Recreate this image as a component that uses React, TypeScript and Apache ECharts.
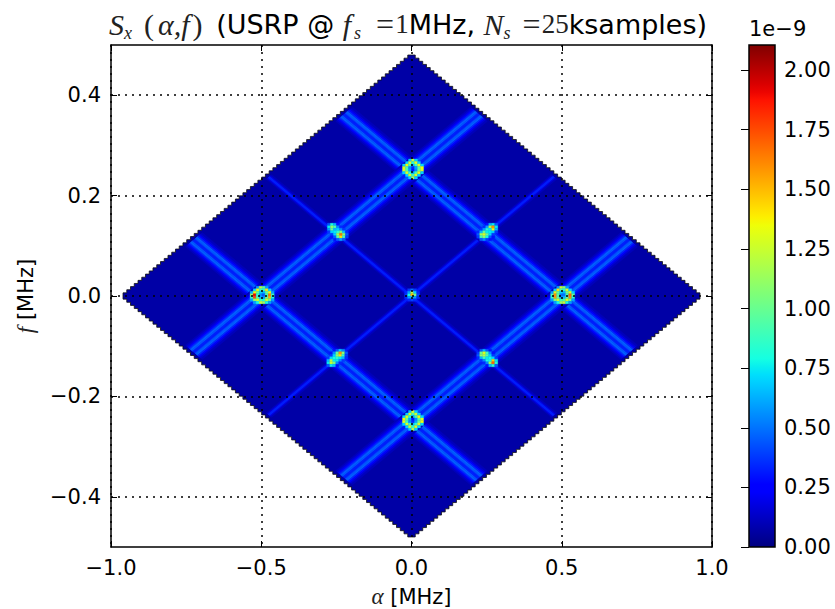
import React, { useEffect, useRef } from "react";
import * as echarts from "echarts";

// Axis ticks
const alphaTicks = [-1, -0.5, 0, 0.5, 1];
const freqTicks = [-0.4, -0.2, 0, 0.2, 0.4];
const colorbarTicks = [0, 0.25, 0.5, 0.75, 1, 1.25, 1.5, 1.75, 2];
const colorMax = 2.105;

// Support of the estimate (corner of the diamond on each axis), and its floor level
const diamondAlpha = 0.96;
const diamondFreq = 0.48;
const floorLevel = 0.07;
const stairStepAlpha = 0.0125;

// Ridges, in rotated coordinates u = a/2 + f, v = a/2 - f
const strongRidgesU = [-0.25, 0.25];
const strongRidgesV = [-0.25, 0.25];
const weakRidgesU = [0];
const weakRidgesV = [0];
const ridgeReach = 0.474;

// Cross-ridge profile: alpha offset of each band's edge, band level (1e-9)
const strongOffsets = [-0.056, -0.048, -0.04, -0.032, -0.024, -0.016, -0.008, 0, 0.008, 0.016, 0.024, 0.032, 0.04, 0.048];
const strongLevels = [0.11, 0.16, 0.24, 0.35, 0.47, 0.44, 0.33, 0.33, 0.44, 0.47, 0.35, 0.24, 0.16, 0.11];
const strongBand = 0.008;
const weakOffsets = [-0.018, -0.012, -0.006, 0, 0.006, 0.012];
const weakLevels = [0.11, 0.18, 0.33, 0.33, 0.18, 0.11];
const weakBand = 0.006;

// Hot spots: grid step, centre, then levels (0 = nothing), rows top to bottom
const cellAlpha = 0.01;
const cellFreq = 0.005;

const spotTopCentre = [0.005, 0.253];
const spotTop = [
  [0, 0, 0.7, 1.25, 0.7, 0, 0],
  [0, 0.7, 1.3, 0.85, 1.3, 0.7, 0],
  [0.7, 1.35, 0.9, 0.65, 0.9, 1.3, 0.7],
  [1.3, 0.95, 0.55, 0.35, 0.6, 0.95, 1.35],
  [1.3, 0.95, 0.6, 0.3, 0.55, 1.0, 1.3],
  [0.7, 1.3, 0.85, 0.6, 0.9, 1.35, 0.7],
  [0, 0.7, 1.3, 0.9, 1.3, 0.7, 0],
  [0, 0, 0.7, 1.2, 0.7, 0, 0],
];
const spotBottomCentre = [0.005, -0.248];
const spotBottom = [
  [0, 0, 0.7, 1.3, 0.7, 0, 0],
  [0, 0.7, 1.3, 0.9, 1.25, 0.7, 0],
  [0.7, 1.3, 0.85, 0.6, 0.9, 1.35, 0.7],
  [1.35, 1.0, 0.6, 0.3, 0.55, 0.95, 1.3],
  [1.3, 0.9, 0.55, 0.35, 0.6, 1.0, 1.35],
  [0.7, 1.3, 0.9, 0.65, 0.85, 1.3, 0.7],
  [0, 0.7, 1.25, 0.85, 1.3, 0.7, 0],
  [0, 0, 0.7, 1.2, 0.7, 0, 0],
];
const spotLeftCentre = [-0.497, 0.002];
const spotLeft = [
  [0, 0, 0.6, 1.2, 1.0, 0.6, 0, 0],
  [0, 0.7, 1.35, 0.9, 0.85, 1.4, 0.7, 0],
  [0.65, 1.35, 1.0, 0.7, 0.65, 1.0, 1.35, 0.6],
  [1.1, 1.9, 0.85, 0.55, 0.45, 0.9, 1.65, 0.9],
  [0.9, 1.75, 0.95, 0.65, 0.55, 1.0, 1.5, 0.8],
  [0.6, 1.1, 1.3, 0.9, 0.8, 1.3, 1.05, 0.6],
  [0, 0.6, 0.8, 1.25, 1.15, 0.8, 0.6, 0],
];
const spotRightCentre = [0.503, 0.002];
const spotRight = [
  [0, 0, 0.6, 1.25, 1.1, 0.6, 0, 0],
  [0, 0.7, 1.4, 0.95, 0.85, 1.3, 0.7, 0],
  [0.6, 1.3, 1.0, 0.7, 0.65, 1.05, 1.3, 0.7],
  [0.9, 1.6, 0.95, 0.5, 0.5, 0.9, 1.7, 1.0],
  [0.85, 1.55, 1.0, 0.6, 0.65, 0.95, 1.6, 0.85],
  [0.6, 1.05, 1.3, 0.9, 0.95, 1.35, 1.05, 0.6],
  [0, 0.6, 0.8, 1.15, 1.25, 0.8, 0.6, 0],
];
const spotUpLeftCentre = [-0.245, 0.1275];
const spotUpLeft = [
  [0.45, 0.8, 0.65, 0.3, 0, 0, 0],
  [0.75, 1.1, 0.95, 0.55, 0.35, 0, 0],
  [0.6, 1.0, 0.65, 0.7, 0.55, 0.38, 0],
  [0.38, 0.7, 0.75, 0.85, 1.05, 0.65, 0.35],
  [0, 0.38, 0.7, 1.15, 1.65, 1.1, 0.45],
  [0, 0.3, 0.45, 0.95, 1.4, 0.9, 0.38],
  [0, 0, 0.3, 0.45, 0.6, 0.45, 0],
];
const spotUpRightCentre = [0.252, 0.1275];
const spotUpRight = [
  [0, 0, 0, 0.3, 0.65, 0.75, 0.45],
  [0, 0, 0.35, 0.6, 1.2, 1.6, 0.75],
  [0, 0.38, 0.6, 0.85, 0.75, 1.35, 0.65],
  [0.35, 0.65, 1.0, 0.75, 0.75, 0.7, 0.38],
  [0.45, 1.15, 1.3, 1.0, 0.7, 0.38, 0],
  [0.38, 0.9, 1.1, 0.8, 0.45, 0.3, 0],
  [0, 0.45, 0.55, 0.38, 0.3, 0, 0],
];
const spotDownLeftCentre = [-0.247, -0.1235];
const spotDownLeft = [
  [0, 0, 0.3, 0.45, 0.7, 0.55, 0],
  [0, 0.3, 0.55, 1.0, 1.6, 1.1, 0.45],
  [0, 0.38, 0.7, 1.1, 1.4, 0.9, 0.38],
  [0.38, 0.7, 0.8, 0.85, 0.75, 0.65, 0.35],
  [0.65, 1.2, 0.75, 0.75, 0.55, 0.38, 0],
  [0.75, 1.25, 1.05, 0.55, 0.35, 0, 0],
  [0.45, 0.75, 0.65, 0.3, 0, 0, 0],
];
const spotDownRightCentre = [0.252, -0.1235];
const spotDownRight = [
  [0, 0.45, 0.65, 0.45, 0.3, 0, 0],
  [0.38, 1.0, 1.3, 0.9, 0.55, 0.3, 0],
  [0.45, 1.1, 1.2, 0.95, 0.7, 0.38, 0],
  [0.35, 0.65, 0.9, 0.75, 0.8, 0.7, 0.38],
  [0, 0.38, 0.55, 0.8, 0.8, 1.45, 0.75],
  [0, 0, 0.35, 0.55, 1.15, 1.7, 0.85],
  [0, 0, 0, 0.3, 0.65, 0.85, 0.45],
];
const spotMiddleCentre = [0.002, 0.002];
const spotMiddle = [
  [0, 0.38, 0.5, 0.38, 0],
  [0.35, 0.6, 1.2, 0.7, 0.35],
  [0.38, 0.8, 1.5, 1.05, 0.4],
  [0.35, 0.6, 0.7, 0.6, 0.35],
  [0, 0.35, 0.4, 0.35, 0],
];

const spotList: [number[], number[][]][] = [
  [spotTopCentre, spotTop],
  [spotBottomCentre, spotBottom],
  [spotLeftCentre, spotLeft],
  [spotRightCentre, spotRight],
  [spotUpLeftCentre, spotUpLeft],
  [spotUpRightCentre, spotUpRight],
  [spotDownLeftCentre, spotDownLeft],
  [spotDownRightCentre, spotDownRight],
  [spotMiddleCentre, spotMiddle],
];

function lerpChannel(t: number, pts: number[][]) {
  for (let i = 1; i < pts.length; i++) {
    if (t <= pts[i][0]) {
      const [a, va] = pts[i - 1];
      const [b, vb] = pts[i];
      return va + ((vb - va) * (t - a)) / (b - a);
    }
  }
  return pts[pts.length - 1][1];
}
const jetR = [[0, 0], [0.35, 0], [0.66, 1], [0.89, 1], [1, 0.5]];
const jetG = [[0, 0], [0.125, 0], [0.375, 1], [0.64, 1], [0.91, 0], [1, 0]];
const jetB = [[0, 0.5], [0.11, 1], [0.34, 1], [0.65, 0], [1, 0]];
function jet(t: number) {
  const c = (p: number[][]) => Math.round(255 * lerpChannel(t, p));
  return `rgb(${c(jetR)},${c(jetG)},${c(jetB)})`;
}
const levelColor = (v: number) => jet(Math.min(1, v / colorMax));

// Stripe polygons: four (alpha, f) corners and a level
function uvToAF(u: number, v: number) {
  return [u + v, (u - v) / 2];
}
function stripes(ats: number[], isU: boolean, offs: number[], lev: number[], w: number) {
  const out: number[][] = [];
  ats.forEach((at) => {
    offs.forEach((o, i) => {
      const c0 = at + o / 2;
      const c1 = at + (o + w) / 2;
      const corners = [
        [c0, -ridgeReach],
        [c1, -ridgeReach],
        [c1, ridgeReach],
        [c0, ridgeReach],
      ];
      const row: number[] = [];
      corners.forEach(([c, l]) => {
        const p = isU ? uvToAF(c, l) : uvToAF(l, c);
        row.push(p[0], p[1]);
      });
      row.push(lev[i]);
      out.push(row);
    });
  });
  return out;
}
const stripeData = [
  ...stripes(weakRidgesU, true, weakOffsets, weakLevels, weakBand),
  ...stripes(weakRidgesV, false, weakOffsets, weakLevels, weakBand),
  ...stripes(strongRidgesU, true, strongOffsets, strongLevels, strongBand),
  ...stripes(strongRidgesV, false, strongOffsets, strongLevels, strongBand),
];

const cellData: number[][] = [];
spotList.forEach(([centre, m]) => {
  const rows = m.length;
  m.forEach((row, r) => {
    const cols = row.length;
    row.forEach((v, c) => {
      if (v > 0) {
        cellData.push([
          centre[0] + (c - (cols - 1) / 2) * cellAlpha,
          centre[1] + ((rows - 1) / 2 - r) * cellFreq,
          v,
        ]);
      }
    });
  });
});

const serif = { fontFamily: "Liberation Serif", fontWeight: "normal", color: "#222" };
const subStyle = { ...serif, fontStyle: "italic", fontSize: 18, verticalAlign: "bottom", lineHeight: 36 };
const mathStyles = {
  mi: { ...serif, fontStyle: "italic", fontSize: 30 },
  mip: { ...serif, fontStyle: "italic", fontSize: 30, padding: [0, 3, 0, 2] },
  br: { ...serif, fontSize: 30, padding: [0, 2, 0, 0] },
  brr: { ...serif, fontSize: 30, padding: [0, 5, 0, 0] },
  eq: { ...serif, fontSize: 32, padding: [0, 1, 0, 0] },
  mr: { ...serif, fontSize: 27 },
  s1: { ...subStyle, padding: [0, 12, 0, 0] },
  s2: { ...subStyle, padding: [0, 15, 0, 3] },
  s3: { ...subStyle, padding: [0, 12, 0, 0] },
  n: { fontFamily: "DejaVu Sans", fontWeight: "normal", fontSize: 27, color: "#000" },
  m2: { ...serif, fontStyle: "italic", fontSize: 23 },
  n2: { fontFamily: "DejaVu Sans", fontWeight: "normal", fontSize: 21, color: "#000" },
};

const labelText = (v: number, digits: number) => v.toFixed(digits).replace("-", "\u2212");

export default function App() {
  const ref = useRef<HTMLDivElement>(null);
  useEffect(() => {
    document.body.style.margin = "0";
    document.body.style.background = "#fff";
    const chart = echarts.init(ref.current!, undefined, { renderer: "svg" });
    const tickFont = { fontFamily: "DejaVu Sans", fontSize: 21, color: "#000" };
    const frame = { show: true, onZero: false, lineStyle: { color: "#000", width: 1.5 } };
    const tick = { show: true, inside: true, length: 6, lineStyle: { color: "#000", width: 1 } };
    const dotted = { show: true, lineStyle: { color: "#000", width: 1.5, type: [2, 5] as number[] } };
    chart.setOption({
      animation: false,
      backgroundColor: "#fff",
      title: {
        left: 104,
        top: 1,
        text:
          "{mi|S}{s1|x}{br|(}{mip|α,f}{brr|)}{n| (USRP @ }{mi|f}{s2|s}{eq|=}{mr|1}{n|MHz, }{mi|N}{s3|s}{eq|=}{mr|25}{n|ksamples)}",
        textStyle: { fontWeight: "normal", rich: mathStyles },
      },
      grid: [
        { left: 111, right: 123, top: 45, bottom: 62, outerBoundsMode: "none", containLabel: false },
        { left: 749, width: 26, top: 45, bottom: 62, outerBoundsMode: "none", containLabel: false },
      ],
      xAxis: [
        {
          type: "value", gridIndex: 0, min: -1, max: 1, interval: 0.5, position: "bottom", z: 10,
          axisLine: frame, axisTick: { ...tick, customValues: alphaTicks }, splitLine: dotted,
          axisLabel: { ...tickFont, margin: 10, customValues: alphaTicks, formatter: (v: number) => labelText(v, 1) },
          name: "{m2|α}{n2| [MHz]}", nameLocation: "middle", nameGap: 38, nameTextStyle: { fontWeight: "normal", rich: mathStyles },
        },
        {
          type: "value", gridIndex: 0, min: -1, max: 1, interval: 0.5, position: "top", z: 10,
          axisLine: frame, axisTick: tick, splitLine: { show: false }, axisLabel: { show: false },
        },
        {
          type: "value", gridIndex: 1, min: 0, max: 1, show: false,
        },
      ],
      yAxis: [
        {
          type: "value", gridIndex: 0, min: -0.5, max: 0.5, position: "left", z: 10,
          axisLine: frame, axisTick: { ...tick, customValues: freqTicks }, splitLine: dotted,
          axisLabel: { ...tickFont, margin: 10, customValues: freqTicks, formatter: (v: number) => labelText(v, 1) },
          name: "{m2|f}{n2| [MHz]}", nameLocation: "middle", nameRotate: 90, nameGap: 74, nameTextStyle: { fontWeight: "normal", rich: mathStyles },
        },
        {
          type: "value", gridIndex: 0, min: -0.5, max: 0.5, position: "right", z: 10,
          axisLine: frame, axisTick: { ...tick, customValues: freqTicks }, splitLine: { show: false }, axisLabel: { show: false },
        },
        {
          type: "value", gridIndex: 1, min: 0, max: colorMax, position: "right", z: 10,
          axisLine: { show: false }, splitLine: { show: false },
          axisTick: { show: true, inside: true, length: 8, lineStyle: { color: "#000", width: 1 }, customValues: colorbarTicks },
          axisLabel: { ...tickFont, margin: 9, customValues: colorbarTicks, formatter: (v: number) => v.toFixed(2) },
        },
      ],
      graphic: [
        { type: "text", x: 749, y: 18, style: { text: "1e\u22129", font: "21px 'DejaVu Sans'", fill: "#000" } },
      ],
      series: [
        {
          type: "custom", xAxisIndex: 0, yAxisIndex: 0, z: 1, silent: true, clip: true,
          data: [[diamondAlpha, diamondFreq, floorLevel]],
          encode: { x: 0, y: 1 },
          renderItem: (_: any, api: any) => {
            const a = api.value(0);
            const f = api.value(1);
            const steps = Math.round(a / stairStepAlpha);
            const da = a / steps;
            const df = f / steps;
            const pts: number[][] = [];
            for (let i = 0; i < steps; i++) {
              pts.push(api.coord([-a + i * da, i * df]));
              pts.push(api.coord([-a + i * da, (i + 1) * df]));
            }
            for (let i = 0; i < steps; i++) {
              pts.push(api.coord([i * da, f - i * df]));
              pts.push(api.coord([(i + 1) * da, f - i * df]));
            }
            for (let i = 0; i < steps; i++) {
              pts.push(api.coord([a - i * da, -i * df]));
              pts.push(api.coord([a - i * da, -(i + 1) * df]));
            }
            for (let i = 0; i < steps; i++) {
              pts.push(api.coord([-i * da, -f + i * df]));
              pts.push(api.coord([-(i + 1) * da, -f + i * df]));
            }
            return {
              type: "polygon",
              shape: { points: pts },
              style: { fill: levelColor(api.value(2)), stroke: "#111", lineWidth: 0.8 },
            };
          },
        },
        {
          type: "custom", xAxisIndex: 0, yAxisIndex: 0, z: 2, silent: true,
          data: stripeData,
          encode: { x: [0, 2, 4, 6], y: [1, 3, 5, 7] },
          renderItem: (_: any, api: any) => {
            const pts = [0, 2, 4, 6].map((k) => api.coord([api.value(k), api.value(k + 1)]));
            const col = levelColor(api.value(8));
            return { type: "polygon", shape: { points: pts }, style: { fill: col, stroke: col, lineWidth: 0.6 } };
          },
        },
        {
          type: "custom", xAxisIndex: 0, yAxisIndex: 0, z: 3, silent: true,
          data: cellData,
          encode: { x: 0, y: 1 },
          renderItem: (_: any, api: any) => {
            const a = api.value(0);
            const f = api.value(1);
            const p0 = api.coord([a - cellAlpha / 2, f + cellFreq / 2]);
            const p1 = api.coord([a + cellAlpha / 2, f - cellFreq / 2]);
            const col = levelColor(api.value(2));
            return {
              type: "rect",
              shape: { x: p0[0], y: p0[1], width: p1[0] - p0[0], height: p1[1] - p0[1] },
              style: { fill: col, stroke: col, lineWidth: 0.3 },
            };
          },
        },
        {
          type: "custom", xAxisIndex: 2, yAxisIndex: 2, z: 2, silent: true,
          data: [[0, 0, 1, colorMax]],
          encode: { x: [0, 2], y: [1, 3] },
          renderItem: (_: any, api: any) => {
            const p0 = api.coord([api.value(0), api.value(3)]);
            const p1 = api.coord([api.value(2), api.value(1)]);
            const colorStops = Array.from({ length: 65 }, (_v, i) => ({ offset: i / 64, color: jet(i / 64) }));
            return {
              type: "rect",
              shape: { x: p0[0], y: p0[1], width: p1[0] - p0[0], height: p1[1] - p0[1] },
              style: {
                fill: { type: "linear", x: 0, y: 1, x2: 0, y2: 0, colorStops },
                stroke: "#000",
                lineWidth: 1.5,
              },
            };
          },
        },
      ],
    });
    return () => chart.dispose();
  }, []);
  return <div ref={ref} style={{ width: 835, height: 609 }} />;
}
